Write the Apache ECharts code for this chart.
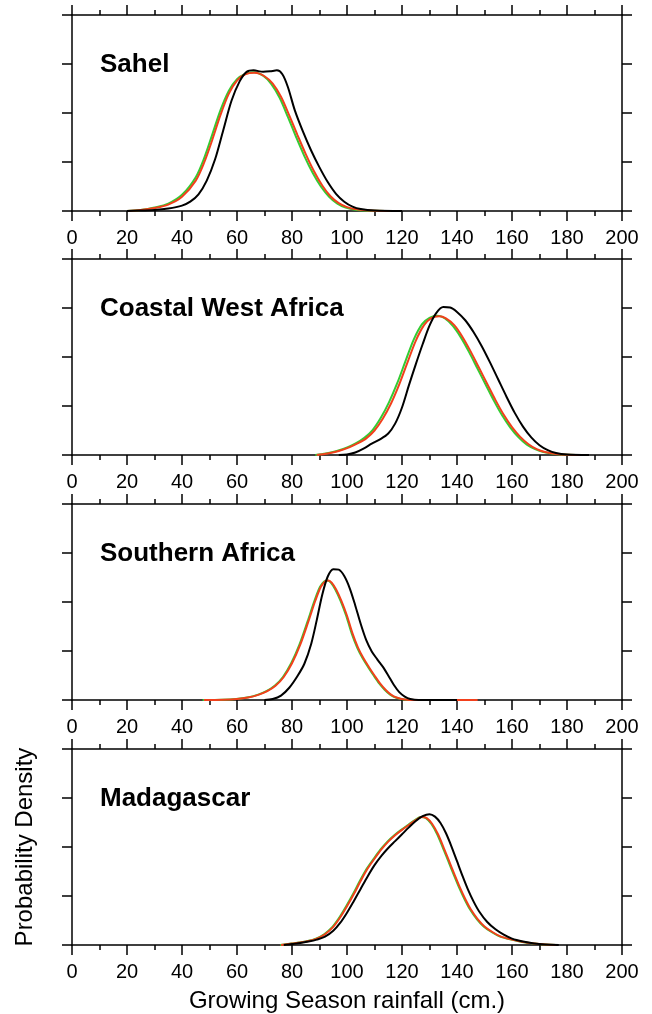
<!DOCTYPE html>
<html>
<head>
<meta charset="utf-8">
<script src="https://cdn.jsdelivr.net/npm/echarts@6/dist/echarts.min.js"></script>
<style>
  html, body { margin: 0; padding: 0; background: #fff; }
  #chart { width: 652px; height: 1014px; }
</style>
</head>
<body>
<div id="chart"></div>
<script>
  // axis ranges (the density axis carries no labels in the figure)
  const xMin = 0, xMax = 200, xStep = 20;
  const yMin = 0, yMax = 0.04, yStep = 0.01;

  const regionNames = ['Sahel', 'Coastal West Africa', 'Southern Africa', 'Madagascar'];

  // [rainfall cm, density]
  const sahelObs = [[20,0],[25,0.0001],[30,0.0002],[35,0.0005],[40,0.0011],[43,0.0019],[46,0.0034],[49,0.0062],[52,0.0105],[55,0.0165],[58,0.0225],[61,0.0265],[63.5,0.0284],[66,0.0287],[69.5,0.0284],[72,0.0285],[74.5,0.0287],[76.5,0.0279],[78.5,0.0253],[81,0.0206],[84,0.0162],[87,0.0123],[90,0.0089],[93,0.0059],[96,0.0035],[99,0.0019],[102,0.0009],[105,0.0004],[110,0.0001],[120,0]];
  const sahelGreen = [[20,0],[25,0.0002],[30,0.0007],[35,0.0015],[40,0.0033],[45,0.0069],[48,0.0107],[51,0.0156],[54,0.0206],[57,0.0245],[60,0.0269],[63,0.028],[66,0.0283],[69.5,0.0276],[72.5,0.0259],[75.5,0.0231],[78.5,0.0192],[81.5,0.0151],[84.5,0.0112],[87.5,0.0078],[90.5,0.005],[93.5,0.0029],[96.5,0.0015],[99.5,0.0007],[103.5,0.0002],[110,0.00004],[120,0]];
  const sahelRed = [[20,0],[25,0.0002],[30,0.0006],[35,0.0013],[40,0.0029],[45,0.0062],[48,0.0098],[51,0.0145],[54,0.0196],[57,0.0239],[60,0.0266],[63,0.0279],[66.5,0.0282],[70,0.0275],[73,0.026],[76,0.0233],[79,0.0195],[82,0.0155],[85,0.0116],[88,0.0081],[91,0.0052],[94,0.003],[97,0.0016],[100,0.0008],[104,0.0003],[110,0.00005],[120,0]];

  const coastalObs = [[97,0],[100,0.0001],[103,0.0005],[106,0.0013],[109,0.0023],[112,0.0032],[115,0.0044],[117.5,0.0064],[120,0.0097],[122.5,0.0142],[125,0.0185],[127.5,0.0226],[130,0.0264],[132.5,0.029],[135,0.0302],[137.5,0.0301],[140,0.0292],[143,0.0275],[146,0.0251],[149,0.0222],[152,0.0189],[155,0.0154],[158,0.0119],[161,0.0086],[164,0.0058],[167,0.0036],[170,0.002],[173,0.001],[176,0.0004],[180,0.0001],[188,0]];
  const coastalGreen = [[88.5,0],[92.3,0.0003],[96.3,0.0008],[100.3,0.0016],[103.3,0.0024],[106.3,0.0035],[109.3,0.0051],[112.3,0.0076],[115.3,0.0108],[118.3,0.0147],[121.3,0.0192],[124.3,0.0236],[127.3,0.0267],[130,0.028],[133,0.0284],[135.5,0.0279],[138.4,0.0264],[141.4,0.024],[144.4,0.021],[147.4,0.0177],[150.4,0.0144],[153.4,0.0111],[156.4,0.0081],[159.4,0.0056],[162.4,0.0036],[165.4,0.0021],[168.4,0.0012],[171.4,0.0006],[175.5,0.0002],[180,0.00005],[188,0]];
  const coastalRed = [[89,0],[93,0.0003],[97,0.0008],[101,0.0016],[104,0.0024],[107,0.0034],[110,0.005],[113,0.0074],[116,0.0105],[119,0.0144],[122,0.0189],[125,0.0233],[128,0.0265],[130.5,0.0279],[133.5,0.0283],[136,0.0279],[139,0.0265],[142,0.0241],[145,0.0211],[148,0.0178],[151,0.0145],[154,0.0112],[157,0.0082],[160,0.0057],[163,0.0037],[166,0.0022],[169,0.0012],[172,0.0006],[176,0.0002],[180,0.00005],[188,0]];

  const southernObs = [[70,0],[73,0.0002],[76,0.0009],[79,0.0025],[82,0.0049],[84.5,0.0074],[87,0.0115],[89,0.0163],[91,0.0215],[93,0.0252],[95,0.0267],[97,0.0266],[99,0.0253],[101,0.0228],[103,0.0193],[105,0.0155],[107,0.0122],[109,0.0099],[111,0.0083],[113,0.0068],[115,0.005],[117,0.0031],[119,0.0016],[121,0.0007],[123,0.0002],[126,0],[140,0]];
  const southernGreen = [[47.5,0],[54.7,0.00005],[59.7,0.0002],[63.7,0.0005],[67.7,0.0011],[70.7,0.0018],[73.7,0.0029],[76.7,0.0047],[79.7,0.0075],[82.7,0.0113],[85.7,0.0161],[88.2,0.0203],[90.2,0.0231],[91.7,0.0242],[93,0.0244],[94.2,0.0239],[95.7,0.0226],[97.7,0.0202],[99.7,0.0172],[101.7,0.0136],[103.7,0.0107],[105.7,0.0085],[107.7,0.0067],[109.7,0.005],[111.7,0.0034],[113.7,0.0021],[115.7,0.0011],[117.7,0.0005],[120.7,0.0001],[125,0],[147,0]];
  const southernRed = [[48,0],[55,0.00005],[60,0.0002],[64,0.0005],[68,0.0011],[71,0.0018],[74,0.0029],[77,0.0047],[80,0.0075],[83,0.0113],[86,0.0161],[88.5,0.0203],[90.5,0.0231],[92,0.0242],[93.3,0.0244],[94.5,0.0239],[96,0.0226],[98,0.0202],[100,0.0172],[102,0.0136],[104,0.0107],[106,0.0085],[108,0.0067],[110,0.005],[112,0.0034],[114,0.0021],[116,0.0011],[118,0.0005],[121,0.0001],[125,0],[147.5,0]];

  const madagascarObs = [[77,0],[80,0.0002],[83,0.0004],[86,0.0007],[89,0.0011],[92,0.0017],[95,0.0029],[97.5,0.0045],[100,0.0066],[102.5,0.009],[105,0.0115],[107.5,0.014],[110,0.0163],[112.5,0.0182],[115,0.0198],[117.5,0.0212],[120,0.0226],[122.5,0.024],[125,0.0253],[127.5,0.0263],[130,0.0267],[132,0.0262],[134,0.0249],[136,0.0228],[138,0.0201],[140,0.0171],[142,0.0141],[144,0.0113],[146,0.0089],[148,0.0069],[151,0.0047],[154,0.0032],[157,0.0021],[160,0.0013],[164,0.0007],[168,0.0003],[172,0.0001],[177,0]];
  const madagascarGreen = [[75.7,0],[79.7,0.0003],[82.7,0.0005],[85.7,0.0008],[88.7,0.0013],[91.7,0.0022],[94.7,0.0037],[97.2,0.0056],[99.7,0.0079],[102.2,0.0104],[104.7,0.0131],[107.2,0.0156],[109.7,0.0176],[112.2,0.0195],[114.7,0.0211],[117.2,0.0224],[119.7,0.0235],[122.2,0.0245],[124.7,0.0255],[126.9,0.0261],[128.7,0.0259],[130.7,0.0247],[132.7,0.0227],[134.7,0.0201],[136.7,0.0173],[138.7,0.0145],[140.7,0.0118],[142.7,0.0094],[144.7,0.0073],[147.2,0.0053],[149.7,0.0038],[152.7,0.0026],[155.7,0.0017],[159.7,0.0011],[163.7,0.0006],[167.7,0.0003],[171.7,0.0001],[176,0]];
  const madagascarRed = [[76,0],[80,0.0003],[83,0.0005],[86,0.0008],[89,0.0013],[92,0.0022],[95,0.0037],[97.5,0.0056],[100,0.0079],[102.5,0.0104],[105,0.0131],[107.5,0.0156],[110,0.0176],[112.5,0.0195],[115,0.0211],[117.5,0.0224],[120,0.0235],[122.5,0.0245],[125,0.0255],[127.2,0.0261],[129,0.0259],[131,0.0247],[133,0.0227],[135,0.0201],[137,0.0173],[139,0.0145],[141,0.0118],[143,0.0094],[145,0.0073],[147.5,0.0053],[150,0.0038],[153,0.0026],[156,0.0017],[160,0.0011],[164,0.0006],[168,0.0003],[172,0.0001],[176,0]];

  const obsSeries = [sahelObs, coastalObs, southernObs, madagascarObs];
  const greenSeries = [sahelGreen, coastalGreen, southernGreen, madagascarGreen];
  const redSeries = [sahelRed, coastalRed, southernRed, madagascarRed];

  const font = 'Liberation Sans';
  const gridTops = [15, 259, 504, 749];
  const gridHeight = 196;

  const lineAxis = { show: true, onZero: false, lineStyle: { color: '#000', width: 1.5 } };
  const tick = { show: true, inside: false, length: 10, lineStyle: { color: '#000', width: 1.5 } };
  const minor = { show: true, splitNumber: 2, length: 5, lineStyle: { color: '#000', width: 1.5 } };

  const grid = [], xAxis = [], yAxis = [], series = [], graphic = [];

  gridTops.forEach(function (top, i) {
    grid.push({ left: 72, right: 30, top: top, height: gridHeight });
    const last = i === gridTops.length - 1;
    xAxis.push({
      gridIndex: i, type: 'value', position: 'bottom',
      min: xMin, max: xMax, interval: xStep,
      axisLine: lineAxis, axisTick: tick, minorTick: minor,
      splitLine: { show: false }, minorSplitLine: { show: false },
      axisLabel: { color: '#000', fontSize: 20, fontFamily: font, margin: 17 },
      name: last ? 'Growing Season rainfall (cm.)' : '',
      nameLocation: 'middle', nameGap: 44,
      nameTextStyle: { color: '#000', fontSize: 24, fontFamily: font }
    });
    xAxis.push({
      gridIndex: i, type: 'value', position: 'top',
      min: xMin, max: xMax, interval: xStep,
      axisLine: lineAxis, axisTick: tick, minorTick: minor,
      splitLine: { show: false }, axisLabel: { show: false }
    });
    yAxis.push({
      gridIndex: i, type: 'value', position: 'left',
      min: yMin, max: yMax, interval: yStep,
      axisLine: lineAxis, axisTick: tick,
      splitLine: { show: false }, axisLabel: { show: false },
      name: last ? 'Probability Density' : '',
      nameLocation: 'middle', nameGap: 35, nameRotate: 90,
      nameTextStyle: { color: '#000', fontSize: 24, fontFamily: font }
    });
    yAxis.push({
      gridIndex: i, type: 'value', position: 'right',
      min: yMin, max: yMax, interval: yStep,
      axisLine: lineAxis, axisTick: tick,
      splitLine: { show: false }, axisLabel: { show: false }
    });

    const base = { type: 'line', xAxisIndex: 2 * i, yAxisIndex: 2 * i, smooth: 0.3,
                   showSymbol: false, silent: true, clip: true };
    series.push(Object.assign({}, base, { name: 'green', data: greenSeries[i],
      lineStyle: { color: '#33cc33', width: 2 } }));
    series.push(Object.assign({}, base, { name: 'red', data: redSeries[i],
      lineStyle: { color: '#f2401c', width: 2 } }));
    series.push(Object.assign({}, base, { name: 'obs', data: obsSeries[i],
      lineStyle: { color: '#000', width: 2 } }));

    graphic.push({
      type: 'text', x: 100, y: top + 50,
      style: { text: regionNames[i], fill: '#000', font: 'bold 26px "' + font + '"',
               verticalAlign: 'middle', align: 'left' }
    });
  });

  const chart = echarts.init(document.getElementById('chart'), null, { renderer: 'canvas' });
  chart.setOption({
    animation: false,
    backgroundColor: '#fff',
    grid: grid, xAxis: xAxis, yAxis: yAxis, series: series, graphic: graphic
  });
</script>
</body>
</html>
